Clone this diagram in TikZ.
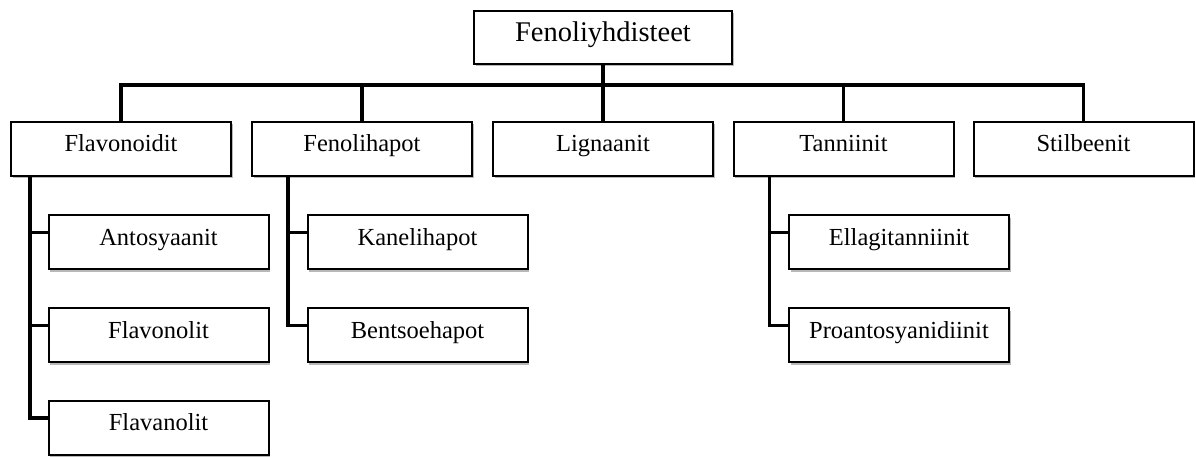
\documentclass[tikz,border=0pt]{standalone}
\usepackage{fontspec}
\setmainfont{Liberation Serif}
\usetikzlibrary{shadows}
\begin{document}
\begin{tikzpicture}[x=1pt,y=-1pt,
  box/.style={draw=black, line width=2pt, fill=white, inner sep=0pt,
    minimum width=220pt, text height=30pt, text depth=24pt, align=center,
    font=\fontsize{24.5pt}{29pt}\selectfont,
    drop shadow={shadow xshift=1.5pt, shadow yshift=-2.5pt, fill=black!55}},
  topbox/.style={box, minimum width=258pt, text height=31pt, text depth=22pt,
    font=\fontsize{28.5pt}{33pt}\selectfont},
  conn/.style={line width=3.6pt, black}]
\useasboundingbox (0,0) rectangle (1196,457);
\fill[white] (0,0) rectangle (1196,457);
\coordinate (bar) at (0,85);
% nodes
\node[topbox] (top) at (603,37.5) {Fenoliyhdisteet};
\node[box] (fla) at (121,149) {Flavonoidit};
\node[box] (fen) at (362,149) {Fenolihapot};
\node[box] (lig) at (603,149) {Lignaanit};
\node[box] (tan) at (843.5,149) {Tanniinit};
\node[box] (sti) at (1083.5,149) {Stilbeenit};
\node[box] (ant) at (158.5,242) {Antosyaanit};
\node[box] (fl2) at (158.5,335) {Flavonolit};
\node[box] (fl3) at (158.5,427.5) {Flavanolit};
\node[box] (kan) at (417.5,242) {Kanelihapot};
\node[box] (ben) at (417.5,335) {Bentsoehapot};
\node[box] (ell) at (899,242) {Ellagitanniinit};
\node[box] (pro) at (899,335) {Proantosyanidiinit};
% level 1 connectors
\draw[conn] (top.south) -- (lig.north);
\draw[conn] (fla.north) -- (fla.north |- bar) -- (sti.north |- bar) -- (sti.north);
\draw[conn] (fen.north) -- (fen.north |- bar);
\draw[conn] (tan.north) -- (tan.north |- bar);
% level 2 connectors
\coordinate (fv) at ([xshift=20pt]fla.south west);
\coordinate (fa) at ([yshift=9.5pt]ant.west);
\coordinate (fb) at ([yshift=9.5pt]fl2.west);
\coordinate (fc) at ([yshift=9.5pt]fl3.west);
\draw[conn] (fv) |- (fc);
\draw[conn] (fv |- fa) -- (fa);
\draw[conn] (fv |- fb) -- (fb);
\coordinate (hv) at ([xshift=37pt]fen.south west);
\coordinate (ha) at ([yshift=9.5pt]kan.west);
\coordinate (hb) at ([yshift=9.5pt]ben.west);
\draw[conn] (hv) |- (hb);
\draw[conn] (hv |- ha) -- (ha);
\coordinate (tv) at ([xshift=37pt]tan.south west);
\coordinate (ta) at ([yshift=9.5pt]ell.west);
\coordinate (tb) at ([yshift=9.5pt]pro.west);
\draw[conn] (tv) |- (tb);
\draw[conn] (tv |- ta) -- (ta);
\end{tikzpicture}
\end{document}
